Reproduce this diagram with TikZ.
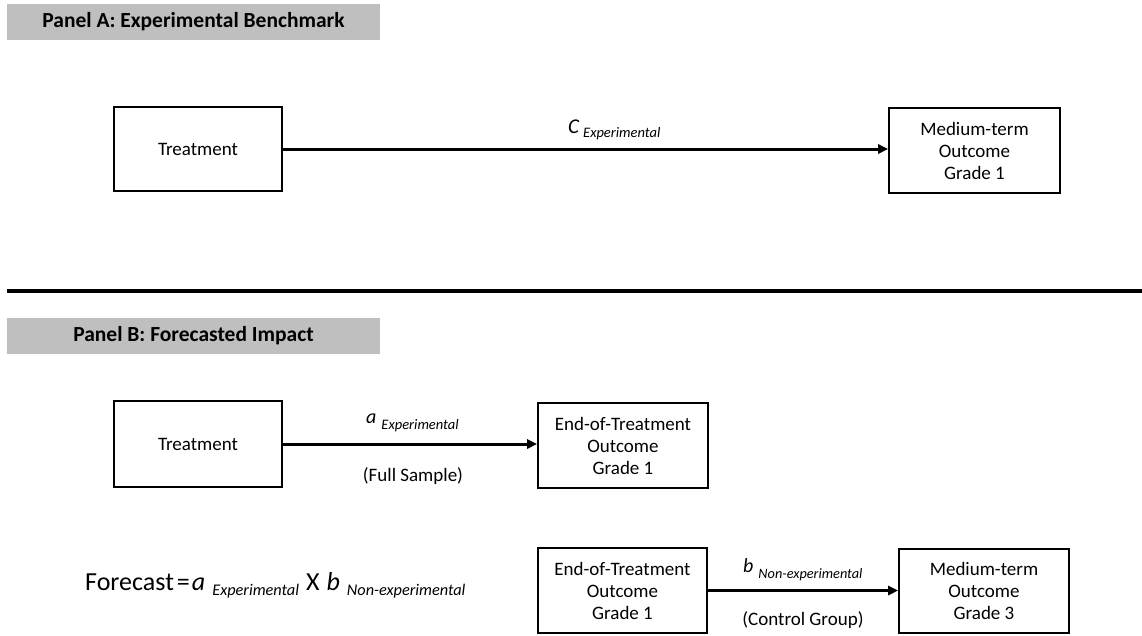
\documentclass[tikz,border=0pt]{standalone}
\usepackage{fontspec}
\setmainfont{Carlito}
\usetikzlibrary{arrows.meta}
\definecolor{hdrgray}{HTML}{BFBFBF}
\newcommand\sub[3]{\raisebox{-#2pt}{\fontsize{#1}{#1}\selectfont\itshape #3}}
\begin{document}
\begin{tikzpicture}[x=1pt,y=-1pt,
  box/.style={draw, line width=1.6pt, inner sep=0pt, align=center,
    font=\fontsize{19}{22}\selectfont},
  hdr/.style={fill=hdrgray, inner sep=0pt, minimum width=373pt, minimum height=36pt,
    font=\fontsize{21.5}{24}\selectfont\bfseries},
  arr/.style={line width=3pt, -{Triangle[length=10pt,width=9pt]}},
  lbl/.style={inner sep=0pt, anchor=base west},
  note/.style={inner sep=0pt, font=\fontsize{19}{22}\selectfont}
]
\useasboundingbox (0,0) rectangle (1142,635);
% Panel A
\node[hdr] (ha) at (193.5,22) {Panel A: Experimental Benchmark};
\node[box, minimum width=168pt, minimum height=84pt] (ta) at (198,149) {Treatment};
\node[box, minimum width=171pt, minimum height=85pt] (ma) at (974.5,150.5) {Medium-term\\Outcome\\Grade 1};
\draw[arr] (ta.east) -- (ta.east -| ma.west);
\node[lbl] (la) at (568,133) {\fontsize{21}{21}\selectfont\itshape C\hspace{4pt}\sub{14.5}{4}{Experimental}};
% separator
\draw[line width=4pt] (7,291) -- (1142,291);
% Panel B
\node[hdr] (hb) at (193.5,336) {Panel B: Forecasted Impact};
\node[box, minimum width=168pt, minimum height=86pt] (tb) at (198,444) {Treatment};
\node[box, minimum width=170pt, minimum height=85pt] (eb) at (623,445.5) {End-of-Treatment\\Outcome\\Grade 1};
\draw[arr] (tb.east) -- (tb.east -| eb.west);
\node[lbl] (lb) at (366,423) {\fontsize{20}{20}\selectfont\itshape a\hspace{5pt}\sub{14.5}{6}{Experimental}};
\node[note] (fs) at (413,476) {(Full Sample)};
\node[box, minimum width=169pt, minimum height=85pt] (ec) at (622.5,590.5) {End-of-Treatment\\Outcome\\Grade 1};
\node[box, minimum width=170pt, minimum height=84pt] (mc) at (984,591) {Medium-term\\Outcome\\Grade 3};
\draw[arr] (ec.east) -- (ec.east -| mc.west);
\node[lbl] (lc) at (743,572) {\fontsize{20}{20}\selectfont\itshape b\hspace{5pt}\sub{14.3}{6}{Non-experimental}};
\node[note] (cg) at (803,620) {(Control Group)};
\node[lbl] (fc) at (85,590) {\fontsize{26}{26}\selectfont Forecast\hspace{3pt}=\hspace{2pt}\textit{a}\hspace{7pt}\sub{16.3}{5}{Experimental}\hspace{7pt}X\hspace{7pt}\textit{b}\hspace{7pt}\sub{16.3}{5}{Non-experimental}};
\end{tikzpicture}
\end{document}
